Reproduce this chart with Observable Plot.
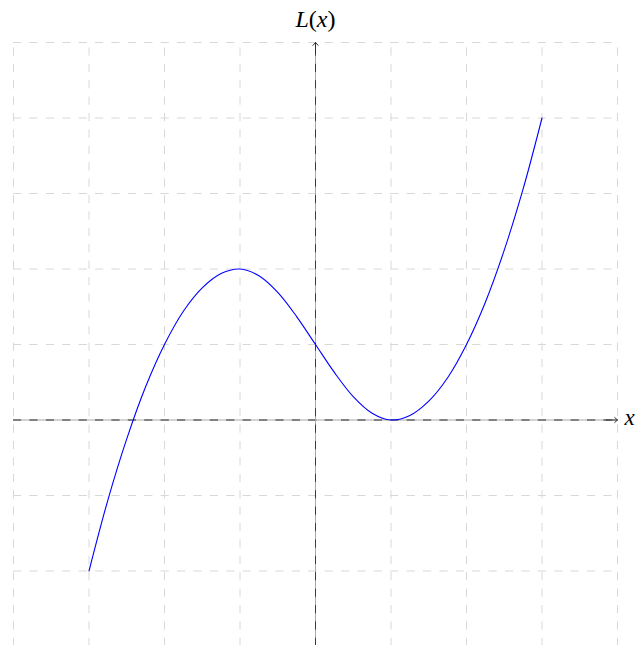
<!DOCTYPE html>
<html><head><meta charset="utf-8">
<script src="https://cdn.jsdelivr.net/npm/d3@7"></script>
<script src="https://cdn.jsdelivr.net/npm/@observablehq/plot@0.6"></script>
<style>body{margin:0;background:#fff;overflow:hidden}</style>
</head><body><div id="chart"></div>
<script>
// curve samples
const curveX = [-3,-2.75,-2.5,-2.25,-2,-1.75,-1.5,-1.25,-1,-0.75,-0.5,-0.25,0,0.25,0.5,0.75,1,1.25,1.5,1.75,2,2.25,2.5,2.75,3];
const curveY = [-2,-1.06,-0.25,0.44,1,1.44,1.75,1.94,2,1.91,1.69,1.37,1,0.63,0.31,0.09,0,0.06,0.25,0.56,1,1.56,2.25,3.06,4];
// grid positions
const gridX = [-4,-3,-2,-1,0,1,2,3,4];
const gridY = [-3,-2,-1,0,1,2,3,4,5];
const xLabel = "x";
const yLabel = "L(x)";

const curve = curveX.map((x, i) => ({x, y: curveY[i]}));
const xMin = gridX[0], xMax = gridX[gridX.length - 1];
const yMin = gridY[0], yMax = gridY[gridY.length - 1];

const gridStyle = {stroke: "#d8d8d8", strokeWidth: 1, strokeDasharray: "8.2,8.2"};
const chart = Plot.plot({
  width: 636,
  height: 645,
  margin: 0,
  x: {domain: [xMin, xMax], range: [13, 617], axis: null},
  y: {domain: [yMin, yMax], range: [646, 42], axis: null},
  style: {background: "white", overflow: "hidden"},
  marks: [
    Plot.ruleY(gridY, {y: d => d, x1: xMin, x2: xMax, ...gridStyle}),
    Plot.ruleX(gridX, {x: d => d, y1: yMin, y2: yMax, ...gridStyle}),
    // x axis
    Plot.ruleY([0], {x1: xMin, x2: xMax, stroke: "#a8a8a8", strokeWidth: 1}),
    Plot.ruleY([0], {x1: xMin, x2: xMax, stroke: "#3a3a3a", strokeWidth: 1, strokeDasharray: "8.2,8.2"}),
    Plot.arrow([0], {x1: xMax - 0.15, x2: xMax, y1: 0, y2: 0, stroke: "#333", strokeWidth: 1, headLength: 7, headAngle: 84}),
    // y axis
    Plot.ruleX([0], {y1: yMin - 0.1, y2: yMax, stroke: "#a8a8a8", strokeWidth: 1}),
    Plot.ruleX([0], {y1: yMin, y2: yMax, stroke: "#3a3a3a", strokeWidth: 1, strokeDasharray: "8.2,8.2"}),
    Plot.arrow([0], {x1: 0, x2: 0, y1: yMax - 0.15, y2: yMax, stroke: "#333", strokeWidth: 1, headLength: 7, headAngle: 84}),
    // curve
    Plot.line(curve, {x: "x", y: "y", curve: "catmull-rom", stroke: "#0000ff", strokeWidth: 1.1}),
    // labels
    Plot.text([yLabel], {x: 0, y: yMax, text: d => d, dy: -16, lineAnchor: "bottom", textAnchor: "middle",
      fontSize: 24, fontFamily: "Liberation Serif", fill: "black"}),
    Plot.text([xLabel], {x: xMax, y: 0, text: d => d, dx: 7, dy: -2, lineAnchor: "middle", textAnchor: "start",
      fontSize: 23, fontFamily: "Liberation Serif", fontStyle: "italic", fill: "black"})
  ]
});
document.getElementById("chart").appendChild(chart);
// style the L(x) label: italic letters, upright parentheses
chart.querySelectorAll("text").forEach(t => {
  if (t.textContent === yLabel) {
    const parts = [["L", true], ["(", false], ["x", true], [")", false]];
    t.textContent = "";
    for (const [s, it] of parts) {
      const ts = document.createElementNS("http://www.w3.org/2000/svg", "tspan");
      ts.textContent = s;
      if (it) ts.setAttribute("font-style", "italic");
      t.appendChild(ts);
    }
  }
});
</script>
</body></html>
